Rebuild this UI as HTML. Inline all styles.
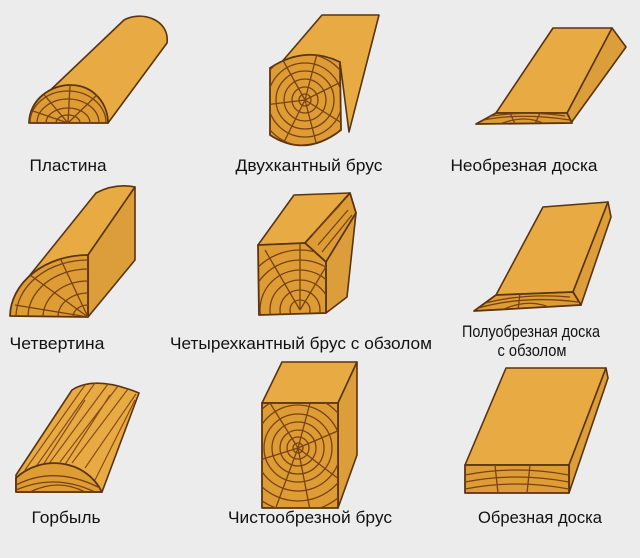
<!DOCTYPE html>
<html><head><meta charset="utf-8"><style>
html,body{margin:0;padding:0;background:#ececec;}
svg{display:block}
text{font-family:"Liberation Sans Narrow","Liberation Sans",sans-serif;font-size:17px;fill:#111;text-anchor:middle}
</style></head><body>
<svg width="640" height="558" viewBox="0 0 640 558" xmlns="http://www.w3.org/2000/svg">
<defs>
<style>
.b{fill:#e8ab44;stroke:#5a3310;stroke-width:1.6;stroke-linejoin:round}
.s{fill:#dc9e3a;stroke:#5a3310;stroke-width:1.6;stroke-linejoin:round}
.e{fill:#dd9c34;stroke:#5a3310;stroke-width:1.8;stroke-linejoin:round}
.r{fill:none;stroke:#7a4212;stroke-width:1.3}
.g{fill:none;stroke:#8a4c14;stroke-width:1.2}
</style>
<clipPath id="c1"><path d="M29,123 C30,98 52,85 70,85 C95,85 108,105 108,123 Z"/></clipPath>
<clipPath id="c2"><path d="M270,68 Q305,45 340,62 L341,130 Q305,158 270,135 Z"/></clipPath>
<clipPath id="c3"><path d="M496,113 L567,113 L572,123 L476,124 Z"/></clipPath>
<clipPath id="c4"><path d="M10,316 A78,62 0 0 1 88,255 L88,317 Z"/></clipPath>
<clipPath id="c5"><path d="M258,245 L305,243 L326,262 L326,313 L259,315 Z"/></clipPath>
<clipPath id="c6"><path d="M496,295 L573,292 L581,305 L474,311 Z"/></clipPath>
<clipPath id="c7"><path d="M16,492 L16,478 C40,455 85,458 102,492 Z"/></clipPath>
<clipPath id="c8"><rect x="262" y="403" width="76" height="105"/></clipPath>
<clipPath id="c9"><rect x="465" y="465" width="104" height="28"/></clipPath>
<clipPath id="c10"><path d="M16,475 L72,390 Q95,375 139,393 L102,492 L16,492 Z"/></clipPath>
</defs>

<!-- Пластина -->
<path class="b" d="M40,100 L124,20 C142,10 170,20 167,43 L108,123 Z"/>
<path class="e" d="M29,123 C30,98 52,85 70,85 C95,85 108,105 108,123 Z"/>
<g clip-path="url(#c1)">
<ellipse class="r" cx="68" cy="123" rx="12" ry="8"/><ellipse class="r" cx="68" cy="123" rx="22" ry="15"/><ellipse class="r" cx="68" cy="123" rx="31" ry="24"/><ellipse class="r" cx="68" cy="123" rx="38" ry="32"/>
<path class="r" d="M68,123 L40,90 M68,123 L70,85 M68,123 L100,92 M68,123 L30,110"/></g>

<!-- Двухкантный -->
<path class="b" d="M280,64 L322,15 L379,15 L349,132 L340,62 Z"/>
<path class="e" d="M270,68 Q305,45 340,62 L341,130 Q305,158 270,135 Z"/>
<g clip-path="url(#c2)">
<circle class="r" cx="305" cy="100" r="6"/><circle class="r" cx="305" cy="100" r="13"/><circle class="r" cx="305" cy="100" r="21"/><circle class="r" cx="305" cy="100" r="29"/><circle class="r" cx="305" cy="100" r="37"/><circle class="r" cx="305" cy="100" r="46"/>
<path class="r" d="M305,100 L280,55 M305,100 L318,50 M305,100 L345,80 M305,100 L345,125 M305,100 L318,150 M305,100 L280,150 M305,100 L265,105"/></g>

<!-- Необрезная -->
<path class="s" d="M612,28 L626,47 L571,123 L567,113 Z"/>
<path class="b" d="M553,28 L612,28 L567,113 L496,113 Z"/>
<path class="e" d="M496,113 L567,113 L572,123 L476,124 Z"/>
<g clip-path="url(#c3)"><path class="r" d="M478,121 Q520,112 570,120 M485,117 Q525,110 565,116 M500,124 Q525,114 545,124 M510,113 L515,124 M540,113 L535,124"/></g>

<!-- Четвертина -->
<path class="b" d="M18,290 L96,193 Q115,183 135,187 L88,255 Z"/>
<path class="s" d="M88,255 L135,187 L135,260 L88,317 Z"/>
<path class="e" d="M10,316 A78,62 0 0 1 88,255 L88,317 Z"/>
<g clip-path="url(#c4)">
<ellipse class="r" cx="88" cy="317" rx="15" ry="12"/><ellipse class="r" cx="88" cy="317" rx="30" ry="24"/><ellipse class="r" cx="88" cy="317" rx="45" ry="36"/><ellipse class="r" cx="88" cy="317" rx="60" ry="48"/><ellipse class="r" cx="88" cy="317" rx="72" ry="57"/>
<path class="r" d="M88,317 L30,275 M88,317 L60,258 M88,317 L15,305"/></g>

<!-- Четырехкантный с обзолом -->
<path class="b" d="M258,245 L294,195 L350,193 L305,243 Z"/>
<path class="e" d="M305,243 L350,193 L356,213 L326,262 Z"/>
<path class="s" d="M326,262 L356,213 L347,297 L326,313 Z"/>
<path class="e" d="M258,245 L305,243 L326,262 L326,313 L259,315 Z"/>
<g clip-path="url(#c5)">
<circle class="r" cx="300" cy="310" r="10"/><circle class="r" cx="300" cy="310" r="20"/><circle class="r" cx="300" cy="310" r="30"/><circle class="r" cx="300" cy="310" r="40"/><circle class="r" cx="300" cy="310" r="50"/><circle class="r" cx="300" cy="310" r="60"/>
<path class="r" d="M300,310 L265,250 M300,310 L300,240 M300,310 L330,260"/></g>
<path class="r" d="M312,235 L340,205 M318,245 L348,210 M322,252 L352,215"/>

<!-- Полуобрезная -->
<path class="b" d="M543,207 L608,202 L573,292 L496,295 Z"/>
<path class="s" d="M608,202 L611,217 L581,305 L573,292 Z"/>
<path class="e" d="M496,295 L573,292 L581,305 L474,311 Z"/>
<g clip-path="url(#c6)"><path class="r" d="M478,308 Q525,295 578,302 M485,303 Q525,293 570,297 M500,311 Q530,296 555,310 M520,293 L518,311"/></g>

<!-- Горбыль -->
<path class="b" d="M16,475 L72,390 Q95,375 139,393 L102,492 L16,492 Z"/>
<g clip-path="url(#c10)"><path class="g" d="M25,470 L85,385 M35,468 L95,383 M48,465 L108,384 M60,462 L118,386 M72,463 L128,389 M85,468 L136,394 M30,485 L85,400 M55,480 L110,395 M95,480 L135,400"/></g>
<path class="e" d="M16,492 L16,478 C40,455 85,458 102,492 Z"/>
<g clip-path="url(#c7)"><path class="r" d="M16,485 Q55,465 100,488 M16,490 Q55,473 95,492 M30,492 Q58,478 85,492"/></g>

<!-- Чистообрезной -->
<path class="b" d="M262,403 L282,362 L357,362 L338,403 Z"/>
<path class="s" d="M338,403 L357,362 L357,455 L338,508 Z"/>
<path class="e" d="M262,403 L338,403 L338,508 L262,508 Z"/>
<g clip-path="url(#c8)">
<circle class="r" cx="298" cy="448" r="5"/><circle class="r" cx="298" cy="448" r="11"/><circle class="r" cx="298" cy="448" r="18"/><circle class="r" cx="298" cy="448" r="26"/><circle class="r" cx="298" cy="448" r="34"/><circle class="r" cx="298" cy="448" r="43"/><circle class="r" cx="298" cy="448" r="53"/><circle class="r" cx="298" cy="448" r="64"/>
<path class="r" d="M298,448 L270,403 M298,448 L310,403 M298,448 L340,430 M298,448 L340,480 M298,448 L310,510 M298,448 L275,510 M298,448 L260,460"/></g>

<!-- Обрезная -->
<path class="b" d="M506,368 L606,368 L569,465 L465,465 Z"/>
<path class="s" d="M606,368 L608,378 L569,493 L569,465 Z"/>
<path class="e" d="M465,465 L569,465 L569,493 L465,493 Z"/>
<g clip-path="url(#c9)"><path class="r" d="M465,475 Q515,465 569,475 M465,482 Q515,472 569,482 M465,489 Q515,479 569,489 M495,465 L498,493 M530,465 L527,493"/></g>

<!-- labels -->
<text x="68" y="171" textLength="77" lengthAdjust="spacingAndGlyphs">Пластина</text>
<text x="309" y="171" textLength="147" lengthAdjust="spacingAndGlyphs">Двухкантный брус</text>
<text x="524" y="171" textLength="147" lengthAdjust="spacingAndGlyphs">Необрезная доска</text>
<text x="57" y="349" textLength="95" lengthAdjust="spacingAndGlyphs">Четвертина</text>
<text x="301" y="349" textLength="262" lengthAdjust="spacingAndGlyphs">Четырехкантный брус с обзолом</text>
<text x="531" y="337" textLength="138" lengthAdjust="spacingAndGlyphs">Полуобрезная доска</text>
<text x="532" y="356" textLength="69" lengthAdjust="spacingAndGlyphs">с обзолом</text>
<text x="66" y="523" textLength="69" lengthAdjust="spacingAndGlyphs">Горбыль</text>
<text x="310" y="523" textLength="164" lengthAdjust="spacingAndGlyphs">Чистообрезной брус</text>
<text x="540" y="523" textLength="124" lengthAdjust="spacingAndGlyphs">Обрезная доска</text>
</svg>
</body></html>
